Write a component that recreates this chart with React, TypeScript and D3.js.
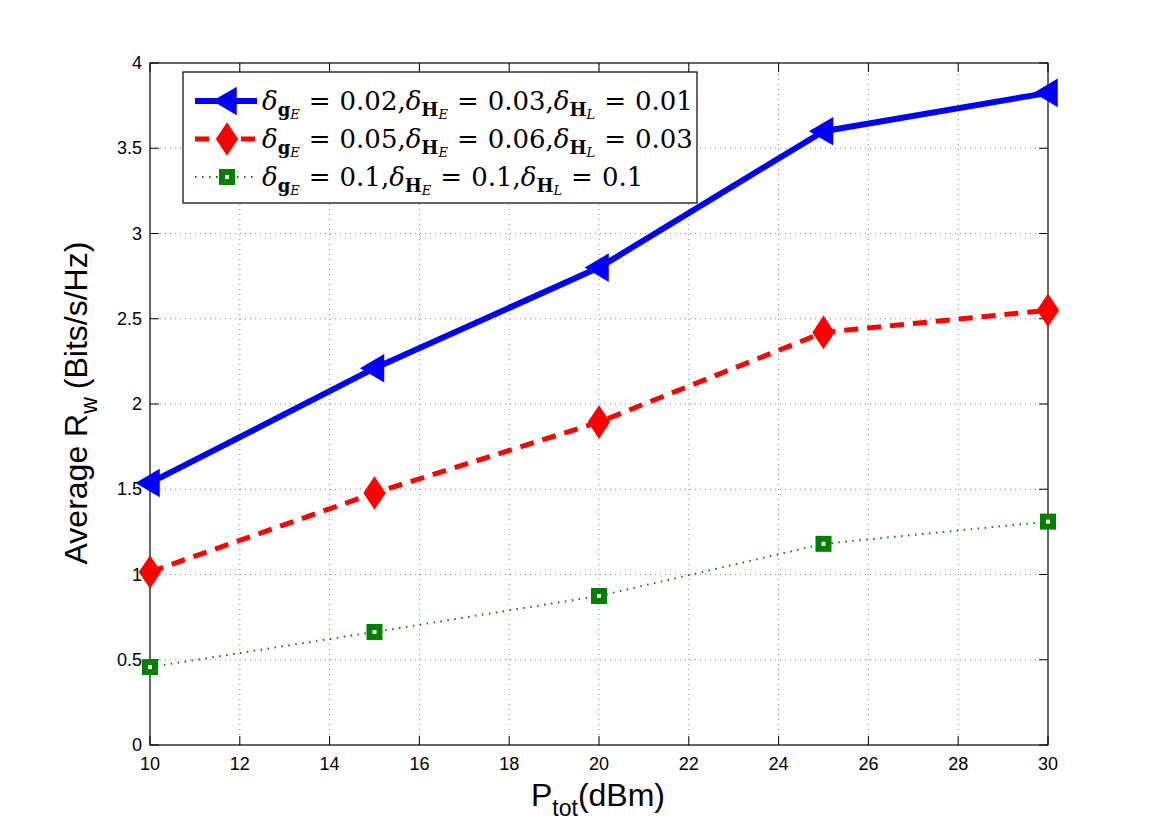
import { useEffect, useRef } from "react";
import * as d3 from "d3";

const power = [10, 15, 20, 25, 30];
const rateLow = [1.537, 2.21, 2.8, 3.6, 3.825];
const rateMid = [1.015, 1.478, 1.894, 2.42, 2.55];
const rateHigh = [0.457, 0.663, 0.874, 1.18, 1.31];
const xTicks = [10, 12, 14, 16, 18, 20, 22, 24, 26, 28, 30];
const yTicks = [0, 0.5, 1, 1.5, 2, 2.5, 3, 3.5, 4];
const legendValues = [
  ["0.02", "0.03", "0.01"],
  ["0.05", "0.06", "0.03"],
  ["0.1", "0.1", "0.1"],
];

const W = 1157;
const H = 838;
const margin = { top: 63, right: 109, bottom: 93, left: 150 };

type Series = {
  values: number[];
  color: string;
  width: number;
  dash: string | null;
  marker: "triangle" | "diamond" | "square";
};

const series: Series[] = [
  { values: rateLow, color: "#0000ff", width: 6, dash: null, marker: "triangle" },
  { values: rateMid, color: "#ff0000", width: 5, dash: "14,9", marker: "diamond" },
  { values: rateHigh, color: "#008000", width: 2, dash: "1.5,5.5", marker: "square" },
];

const drawMarker = (
  g: d3.Selection<SVGGElement, unknown, null, undefined>,
  kind: Series["marker"],
  color: string,
  x: number,
  y: number
) => {
  if (kind === "triangle") {
    g.append("path")
      .attr("d", `M${x - 13},${y} L${x + 9},${y - 13} L${x + 9},${y + 13} Z`)
      .attr("fill", color)
      .attr("stroke", color)
      .attr("stroke-width", 1.5);
  } else if (kind === "diamond") {
    g.append("path")
      .attr("d", `M${x},${y - 15} L${x + 10},${y} L${x},${y + 15} L${x - 10},${y} Z`)
      .attr("fill", color)
      .attr("stroke", color)
      .attr("stroke-width", 2);
  } else {
    g.append("rect")
      .attr("x", x - 5)
      .attr("y", y - 5)
      .attr("width", 10)
      .attr("height", 10)
      .attr("fill", "#fff")
      .attr("stroke", color)
      .attr("stroke-width", 6);
  }
};

const App = () => {
  const svgRef = useRef<SVGSVGElement>(null);

  useEffect(() => {
    if (!svgRef.current) return;
    const svg = d3.select(svgRef.current);
    svg.selectAll("*").remove();

    const iw = W - margin.left - margin.right;
    const ih = H - margin.top - margin.bottom;

    const x = d3.scaleLinear().domain([10, 30]).range([margin.left, margin.left + iw]);
    const y = d3.scaleLinear().domain([0, 4]).range([margin.top + ih, margin.top]);

    svg.append("rect").attr("width", W).attr("height", H).attr("fill", "#fff");

    // dotted grid
    const grid = svg.append("g").attr("stroke", "#888").attr("stroke-width", 1).attr("stroke-dasharray", "1,4");
    xTicks.slice(1, -1).forEach((t) => {
      grid.append("line").attr("x1", x(t)).attr("x2", x(t)).attr("y1", y(0)).attr("y2", y(4));
    });
    yTicks.slice(1, -1).forEach((t) => {
      grid.append("line").attr("x1", x(10)).attr("x2", x(30)).attr("y1", y(t)).attr("y2", y(t));
    });

    // inward ticks on all four sides
    const ticks = svg.append("g").attr("stroke", "#000").attr("stroke-width", 1);
    xTicks.forEach((t) => {
      ticks.append("line").attr("x1", x(t)).attr("x2", x(t)).attr("y1", y(0)).attr("y2", y(0) - 9);
      ticks.append("line").attr("x1", x(t)).attr("x2", x(t)).attr("y1", y(4)).attr("y2", y(4) + 9);
    });
    yTicks.forEach((t) => {
      ticks.append("line").attr("x1", x(10)).attr("x2", x(10) + 9).attr("y1", y(t)).attr("y2", y(t));
      ticks.append("line").attr("x1", x(30)).attr("x2", x(30) - 9).attr("y1", y(t)).attr("y2", y(t));
    });

    svg.append("rect")
      .attr("x", x(10))
      .attr("y", y(4))
      .attr("width", iw)
      .attr("height", ih)
      .attr("fill", "none")
      .attr("stroke", "#000")
      .attr("stroke-width", 1.2);

    const labelFont = "'Liberation Sans', Arial, sans-serif";
    xTicks.forEach((t) => {
      svg.append("text")
        .attr("x", x(t))
        .attr("y", y(0) + 25)
        .attr("text-anchor", "middle")
        .attr("font-family", labelFont)
        .attr("font-size", 18)
        .text(t);
    });
    yTicks.forEach((t) => {
      svg.append("text")
        .attr("x", x(10) - 8)
        .attr("y", y(t) + 6)
        .attr("text-anchor", "end")
        .attr("font-family", labelFont)
        .attr("font-size", 18)
        .text(t);
    });

    // axis titles
    const xl = svg.append("text")
      .attr("x", 598)
      .attr("y", 806)
      .attr("text-anchor", "middle")
      .attr("font-family", labelFont)
      .attr("font-size", 32);
    xl.append("tspan").text("P");
    xl.append("tspan").attr("font-size", 23).attr("dy", 10).text("tot");
    xl.append("tspan").attr("dy", -10).text("(dBm)");

    const yl = svg.append("text")
      .attr("transform", `translate(87,403) rotate(-90)`)
      .attr("text-anchor", "middle")
      .attr("font-family", labelFont)
      .attr("font-size", 32);
    yl.append("tspan").text("Average R");
    yl.append("tspan").attr("font-size", 23).attr("dy", 10).text("w");
    yl.append("tspan").attr("dy", -10).attr("dx", 8).text("(Bits/s/Hz)");

    // series
    const line = d3.line<number>().x((_, i) => x(power[i])).y((d) => y(d));
    series.forEach((s) => {
      const g = svg.append("g");
      g.append("path")
        .attr("d", line(s.values))
        .attr("fill", "none")
        .attr("stroke", s.color)
        .attr("stroke-width", s.width)
        .attr("stroke-dasharray", s.dash)
        .attr("stroke-linejoin", "round");
      s.values.forEach((v, i) => drawMarker(g, s.marker, s.color, x(power[i]), y(v)));
    });

    // legend
    const lg = svg.append("g");
    lg.append("rect")
      .attr("x", 183)
      .attr("y", 72)
      .attr("width", 514)
      .attr("height", 131)
      .attr("fill", "#fff")
      .attr("stroke", "#000")
      .attr("stroke-width", 1.2);
    const mathFont = "'DejaVu Serif', 'Liberation Serif', serif";
    series.forEach((s, i) => {
      const cy = 101 + i * 38;
      lg.append("line")
        .attr("x1", 195)
        .attr("x2", 257)
        .attr("y1", cy)
        .attr("y2", cy)
        .attr("stroke", s.color)
        .attr("stroke-width", s.width)
        .attr("stroke-dasharray", s.dash);
      drawMarker(lg, s.marker, s.color, 227, cy);
      const t = lg.append("text")
        .attr("x", 262)
        .attr("y", cy + 9)
        .attr("font-family", mathFont)
        .attr("font-size", 26);
      const vals = legendValues[i];
      const subs: [string, string][] = [["g", "E"], ["H", "E"], ["H", "L"]];
      subs.forEach(([b, sub], k) => {
        t.append("tspan").attr("font-style", "italic").text("δ");
        t.append("tspan").attr("font-weight", "bold").attr("font-size", 18).attr("dy", 6).text(b);
        t.append("tspan").attr("font-style", "italic").attr("font-size", 13).attr("dy", 3).text(sub);
        t.append("tspan").attr("dy", -9).attr("dx", 9).text("=");
        t.append("tspan").attr("dx", 9).text(`${vals[k]}${k < 2 ? "," : ""}`);
      });
    });
  }, []);

  return <svg ref={svgRef} width={W} height={H} style={{ display: "block", margin: -8 }} />;
};

export default App;
